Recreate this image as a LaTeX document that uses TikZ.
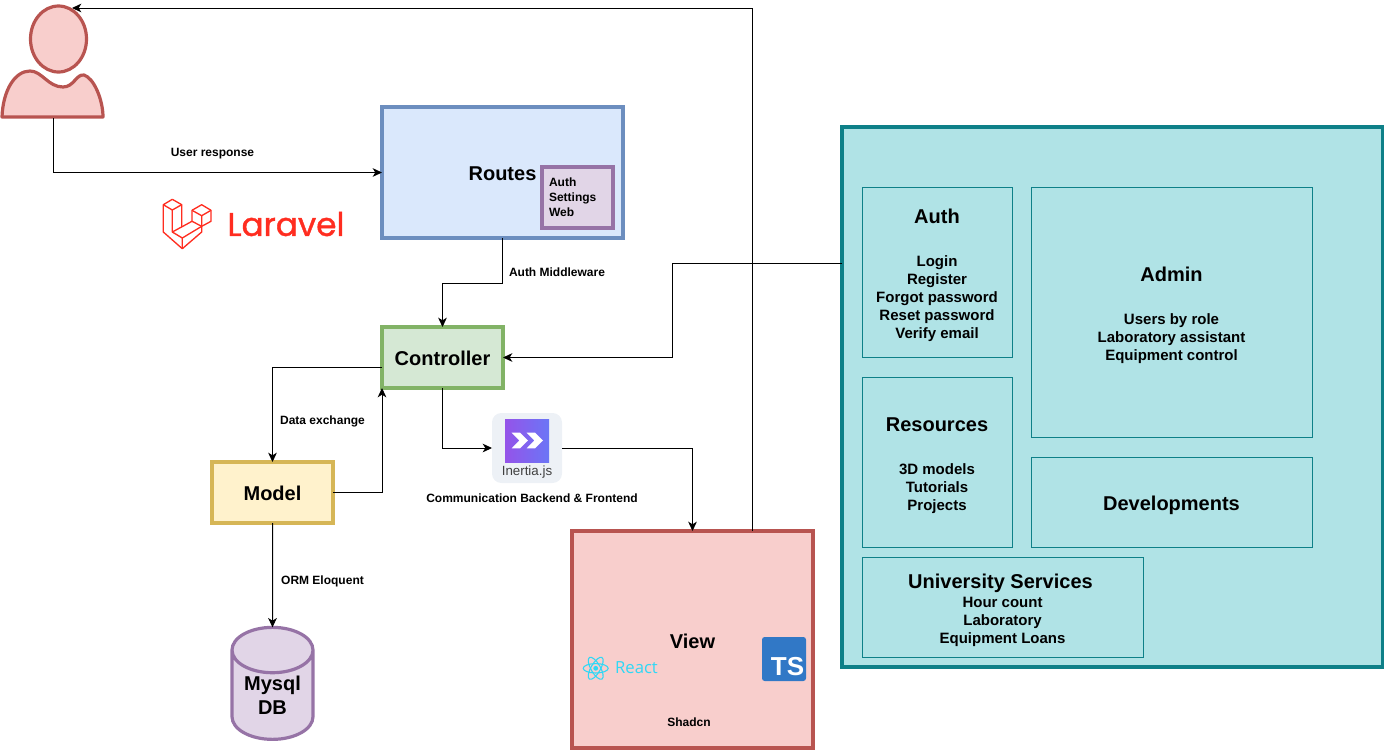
\documentclass[tikz,border=0pt]{standalone}
\usepackage{fontspec}
\setmainfont{Liberation Sans}
\newfontfamily\LogoFont[FakeBold=1.2]{Poppins}
\newfontfamily\ReactFont{Open Sans}
\usepackage{xcolor}
\definecolor{ColBlue}{HTML}{DAE8FC}
\definecolor{ColBlueD}{HTML}{6C8EBF}
\definecolor{ColPurple}{HTML}{E1D5E7}
\definecolor{ColPurpleD}{HTML}{9673A6}
\definecolor{ColGreen}{HTML}{D5E8D4}
\definecolor{ColGreenD}{HTML}{82B366}
\definecolor{ColYellow}{HTML}{FFF2CC}
\definecolor{ColYellowD}{HTML}{D6B656}
\definecolor{ColRed}{HTML}{F8CECC}
\definecolor{ColRedD}{HTML}{B85450}
\definecolor{ColTeal}{HTML}{B0E3E6}
\definecolor{ColTealD}{HTML}{0E8088}
\definecolor{ColLaravel}{HTML}{FF2D20}
\definecolor{ColReact}{HTML}{2FD8F6}
\definecolor{ColTS}{HTML}{3178C6}
\definecolor{ColInertia}{HTML}{EDF1F6}
\definecolor{ColInertiaL}{HTML}{9553E9}
\definecolor{ColInertiaR}{HTML}{6B76F6}
\usetikzlibrary{arrows.meta}
\usetikzlibrary{shapes.geometric}
\newcommand{\HeadFont}{\fontsize{15}{18}\selectfont\bfseries}
\newcommand{\ListFont}{\fontsize{11.25}{13.5}\selectfont\bfseries}
\newcommand{\Head}[1]{{\HeadFont\rule{0pt}{15.4pt}#1}}
\tikzset{Size/.style 2 args={minimum width=#1*.75pt,minimum height=#2*.75pt}}
\tikzstyle{Node}=[rectangle,line width=2.4pt,inner sep=0pt,outer sep=0pt,
align=center,font=\HeadFont]
\tikzstyle{Main}=[Node,text height=12.4pt]
\tikzstyle{Inner}=[rectangle,draw=ColTealD,fill=ColTeal,line width=.75pt,
inner sep=0pt,outer sep=0pt,align=center,font=\ListFont]
\tikzstyle{Edge}=[draw=black,line width=.75pt,-{Stealth[length=7pt,width=6.5pt,inset=2pt]}]
\tikzstyle{EdgeLabel}=[inner sep=0pt,font=\fontsize{9}{11.25}\selectfont\bfseries]
\tikzstyle{Person}=[draw=ColRedD,fill=ColRed,line width=2.4pt,line join=round]
\tikzstyle{LaravelLine}=[draw=ColLaravel,line width=1pt,line join=round]
\tikzstyle{Atom}=[draw=ColReact,line width=.8pt]

\begin{document}
\begin{tikzpicture}[x=.75pt,y=-.75pt]
        \useasboundingbox(0,0)rectangle(1384,750);
        \node[Main,Size={241}{131},draw=ColBlueD,fill=ColBlue](Routes)at(502.5,172.5){Routes};
        \node[Node,Size={71}{61},draw=ColPurpleD,fill=ColPurple,align=left,text width=57*.75pt,
            font=\fontsize{9}{11.25}\selectfont\bfseries](RoutesList)at(577.5,197.5){Auth\\Settings\\Web};
        \node[Main,Size={121}{61},draw=ColGreenD,fill=ColGreen](Controller)at(442.5,357.5){Controller};
        \node[Main,Size={121}{61},draw=ColYellowD,fill=ColYellow](Model)at(272.5,492.5){Model};
        \node[Node,shape=cylinder,shape border rotate=90,aspect=.8,Size={81}{112},
            draw=ColPurpleD,fill=ColPurple](DB)at(272.5,695.5){Mysql\\DB};
        \node[Main,text height=14pt,Size={241}{217},draw=ColRedD,fill=ColRed](View)at(692.5,639.5){View};
        \node[EdgeLabel](Shadcn)at(689,722){Shadcn};
        \node[Node,Size={541}{540},draw=ColTealD,fill=ColTeal](Services)at(1112.5,397){};
        \node[Inner,Size={150}{170}](Auth)at(937,272){\Head{Auth}\\[18.75pt]Login\\Register\\Forgot password\\Reset password\\Verify email};
        \node[Inner,Size={281}{250}](Admin)at(1171.5,312){\Head{Admin}\\[18.75pt]Users by role\\Laboratory assistant\\Equipment control};
        \node[Inner,Size={150}{170}](Resources)at(937,462){\Head{Resources}\\[18.75pt]3D models\\Tutorials\\Projects};
        \node[Inner,Size={281}{90},font=\HeadFont,text height=16.4pt](Developments)at(1171.5,502){Developments};
        \node[Inner,Size={281}{100}](University)at(1002.5,607){\Head{University Services\kern3pt}\\[.75pt]Hour count\\Laboratory\\Equipment Loans};
        \node[rectangle,rounded corners=7pt,fill=ColInertia,minimum size=70*.75pt,inner sep=0pt,outer sep=0pt](Inertia)at(527,448){};
        \fill[left color=ColInertiaL,right color=ColInertiaR](505,419)rectangle(549,462);
        \fill[white](511.7,432.7)--(520,432.7)--(528,440.5)--(520,448.3)--(511.7,448.3)--(519.3,440.5)--cycle;
        \fill[white](526.7,432.7)--(535,432.7)--(543,440.5)--(535,448.3)--(526.7,448.3)--(534.3,440.5)--cycle;
        \node[inner sep=0pt,text=black!75,font=\fontsize{10}{12}\selectfont](InertiaText)at(527,472){Inertia.js};
        \coordinate(UserIn)at(72,8);
        \coordinate(UserOut)at(53,118);
        \coordinate(ServicesOut)at(842,263);
        \coordinate(ServicesBend)at(672,263);
        \coordinate(ControllerOut)at(382,367);
        \coordinate(ViewOut)at(752,531);
        \draw[Person](2,117)..controls(3,90)and(15,71)..(30,71)..controls(42,71)and(48,87)..(63,87)
            ..controls(74,87)and(76,74)..(84,75)..controls(94,78)and(103,100)..(103,117)--cycle;
        \draw[Person](58.5,39)ellipse(28 and 33);
        \draw[LaravelLine](172.3,199.3)--(163.3,204.7)--(163.3,232)--(182.3,248.7)--(201.7,232)--(201.7,226.3)--(211,221.3)--(211,210.3)--(201.7,204.7)--(192,210.3)--(192,221.3)--(172.3,232)--(172.3,210)--(163.3,204.7);
        \draw[LaravelLine](172.3,199.3)--(181.7,204.7)--(181.7,227);
        \draw[LaravelLine](172.3,210)--(181.7,204.7);
        \draw[LaravelLine](192,210.3)--(201.7,215.7)--(211,210.3);
        \draw[LaravelLine](201.7,215.7)--(201.7,226.3)--(192,221.3);
        \draw[LaravelLine](172.3,232)--(182.3,238)--(182.3,248.7);
        \draw[LaravelLine](182.3,238)--(201.7,226.3);
        \node[inner sep=0pt,text=ColLaravel,font=\LogoFont\fontsize{24.5}{27}\selectfont](LaravelText)at(286,224){Laravel};
        \draw[Atom](595.7,668.3)ellipse(12.5 and 4.7);
        \draw[Atom,rotate around={60:(595.7,668.3)}](595.7,668.3)ellipse(12.5 and 4.7);
        \draw[Atom,rotate around={120:(595.7,668.3)}](595.7,668.3)ellipse(12.5 and 4.7);
        \fill[ColReact](595.7,668.3)circle(2.4);
        \node[inner sep=0pt,text=ColReact,font=\ReactFont\fontsize{12.5}{14}\selectfont](ReactText)at(636.5,668){React};
        \node[rectangle,rounded corners=2pt,fill=ColTS,minimum size=44*.75pt,inner sep=0pt](TsBox)at(784,659){};
        \node[inner sep=0pt,text=white,font=\fontsize{19.5}{22}\selectfont\bfseries](TsText)at(787.5,667){TS};
        \draw[Edge](UserOut)|-(Routes.west);
        \draw[Edge](ViewOut)|-(UserIn);
        \draw[Edge](Routes.south)--++(0,45)-|(Controller.north);
        \draw[Edge](ServicesOut)--(ServicesBend)|-(Controller.east);
        \draw[Edge](ControllerOut)-|(Model.north);
        \draw[Edge](Model.east)-|(Controller.south west);
        \draw[Edge](Controller.south)|-(Inertia.west);
        \draw[Edge](Inertia.east)-|(View.north);
        \draw[Edge](Model.south)--(DB.north);
        \node[EdgeLabel](LabelUser)at(212.5,154){User response};
        \node[EdgeLabel](LabelAuth)at(557,272){Auth Middleware};
        \node[EdgeLabel](LabelData)at(322.5,421){Data exchange};
        \node[EdgeLabel](LabelOrm)at(322.5,581){ORM Eloquent};
        \node[EdgeLabel](LabelInertia)at(532,498){Communication Backend \& Frontend};
    \end{tikzpicture}
\end{document}
